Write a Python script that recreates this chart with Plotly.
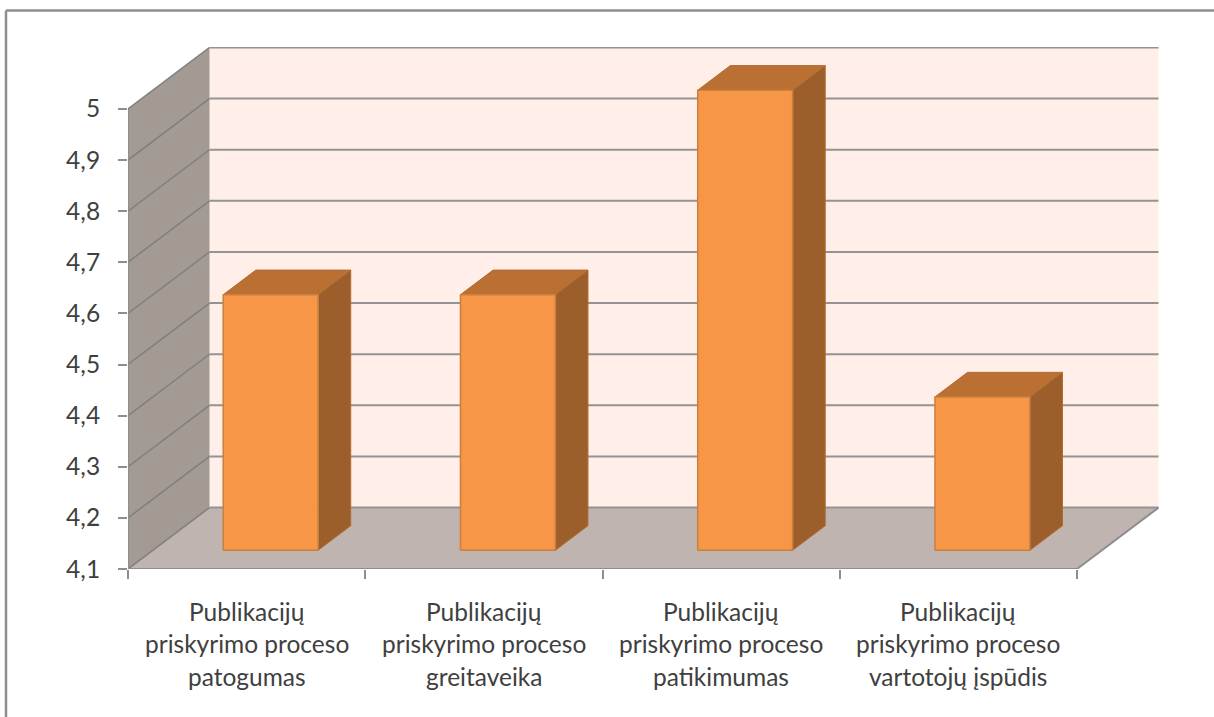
import plotly.graph_objects as go

# ---- data ----
categories = [
    ["Publikacijų", "priskyrimo proceso", "patogumas"],
    ["Publikacijų", "priskyrimo proceso", "greitaveika"],
    ["Publikacijų", "priskyrimo proceso", "patikimumas"],
    ["Publikacijų", "priskyrimo proceso", "vartotojų įspūdis"],
]
values = [4.6, 4.6, 5.0, 4.4]
y_ticks = [4.1, 4.2, 4.3, 4.4, 4.5, 4.6, 4.7, 4.8, 4.9, 5.0]
y_labels = ["4,1", "4,2", "4,3", "4,4", "4,5", "4,6", "4,7", "4,8", "4,9", "5"]

# ---- geometry of the pseudo-3D box, in axis units ----
W, H = 1214, 717
L, R, T, B = 128, 1162, 46.5, 569.3
PX_X = 237.25      # px per category
PX_Y = 512.0       # px per value unit
DX = 81.5 / PX_X   # depth of the box
DY = 61.5 / PX_Y
Y0, Y1 = y_ticks[0], y_ticks[-1]
BAR_W = 0.40
BAR_OFF = 0.295    # bar front face, fraction of the depth
BAR_DEPTH = 0.40   # bar depth, fraction of the depth

GRID = "#939393"
FONT = "Lato"
TEXT = "#404040"
FONT_SIZE = 24.5

fig = go.Figure()


def poly(xs, ys, fill, line=None, width=1.5, name=""):
    fig.add_trace(go.Scatter(
        x=xs, y=ys, mode="lines", fill="toself" if fill else None, fillcolor=fill,
        line=dict(color=line or "rgba(0,0,0,0)", width=width),
        hoverinfo="skip", showlegend=False, name=name, cliponaxis=False))


n = len(categories)
# back wall, side wall, floor
poly([DX, n + DX, n + DX, DX, DX], [Y0 + DY, Y0 + DY, Y1 + DY, Y1 + DY, Y0 + DY], "#FFEFE8", name="back wall")
poly([0, DX, DX, 0, 0], [Y0, Y0 + DY, Y1 + DY, Y1, Y0], "#A39A94", name="side wall")
poly([0, n, n + DX, DX, 0], [Y0, Y0, Y0 + DY, Y0 + DY, Y0], "#BFB4AF", name="floor")

# gridlines on the side wall (a little darker against the grey wall)
sx, sy = [], []
for v in y_ticks:
    sx += [0, DX, None]
    sy += [v, v + DY, None]
poly(sx, sy, None, "#7F7F7F", 1.5, name="side grid")

# gridlines on the back wall
gx, gy = [], []
for v in y_ticks:
    gx += [DX, n + DX, None]
    gy += [v + DY, v + DY, None]
poly(gx, gy, None, GRID, 2, name="grid")

# axis lines and floor edge
poly([0, 0, None, 0, n, n + DX], [Y1, Y0, None, Y0, Y0, Y0 + DY], None, "#8E8E8E", 2, name="axes")

# bars
for i, v in enumerate(values):
    x0 = i + 0.5 - BAR_W / 2 + BAR_OFF * DX
    x1 = x0 + BAR_W
    b = Y0 + 0.305 * DY
    t = v + 0.305 * DY
    ddx = BAR_DEPTH * DX
    ddy = BAR_DEPTH * DY
    poly([x1, x1 + ddx, x1 + ddx, x1, x1], [b, b + ddy, t + ddy, t, b], "#9C5F2B", "#B06C30", 1, name="bar side")
    poly([x0, x1, x1 + ddx, x0 + ddx, x0], [t, t, t + ddy, t + ddy, t], "#BB7033", "#B06C30", 1, name="bar top")
    poly([x0, x1, x1, x0, x0], [b, b, t, t, b], "#F79646", "#C9803F", 1.5, name="bar front")

# category labels, one real text per line (line pitch of the original is wide)
LINE_PITCH = 32.7
FIRST_LINE = 42
annotations = []
for i, lines in enumerate(categories):
    for k, s in enumerate(lines):
        annotations.append(dict(
            x=i + 0.5, xref="x", y=0, yref="paper", yanchor="middle", xanchor="center",
            yshift=-(FIRST_LINE + k * LINE_PITCH), text=s, showarrow=False,
            font=dict(family=FONT, size=FONT_SIZE, color=TEXT)))

fig.update_layout(
    width=W, height=H, autosize=False,
    margin=dict(l=L, r=W - R, t=T, b=H - B, pad=0),
    paper_bgcolor="white", plot_bgcolor="white",
    separators=", ",
    showlegend=False,
    annotations=annotations,
    xaxis=dict(
        range=[0, (R - L) / PX_X], tickvals=list(range(n + 1)), ticktext=[""] * (n + 1),
        ticks="outside", ticklen=9, tickwidth=2, tickcolor="#8E8E8E",
        showgrid=False, zeroline=False, showline=False, fixedrange=True),
    yaxis=dict(
        range=[Y0, Y0 + (B - T) / PX_Y], tickvals=y_ticks, ticktext=y_labels,
        ticks="outside", ticklen=9, tickwidth=2, tickcolor="#8E8E8E",
        ticklabelstandoff=13,
        tickfont=dict(family=FONT, size=FONT_SIZE, color=TEXT),
        showgrid=False, zeroline=False, showline=False, fixedrange=True),
    shapes=[
        # frame of the original picture (top and left edges only)
        dict(type="line", xref="paper", yref="paper", layer="above",
             x0=(6 - L) / (R - L), x1=(W + 5 - L) / (R - L),
             y0=(B - 10) / (B - T), y1=(B - 10) / (B - T),
             line=dict(color="#8E8E8E", width=2.5)),
        dict(type="line", xref="paper", yref="paper", layer="above",
             x0=(6 - L) / (R - L), x1=(6 - L) / (R - L),
             y0=(B - 10) / (B - T), y1=(B - H - 5) / (B - T),
             line=dict(color="#8E8E8E", width=2.5)),
    ],
)

fig.write_html(
    "out.html",
    config={"displayModeBar": False},
    post_script="document.body.style.margin='0';document.documentElement.style.overflow='hidden';",
)
